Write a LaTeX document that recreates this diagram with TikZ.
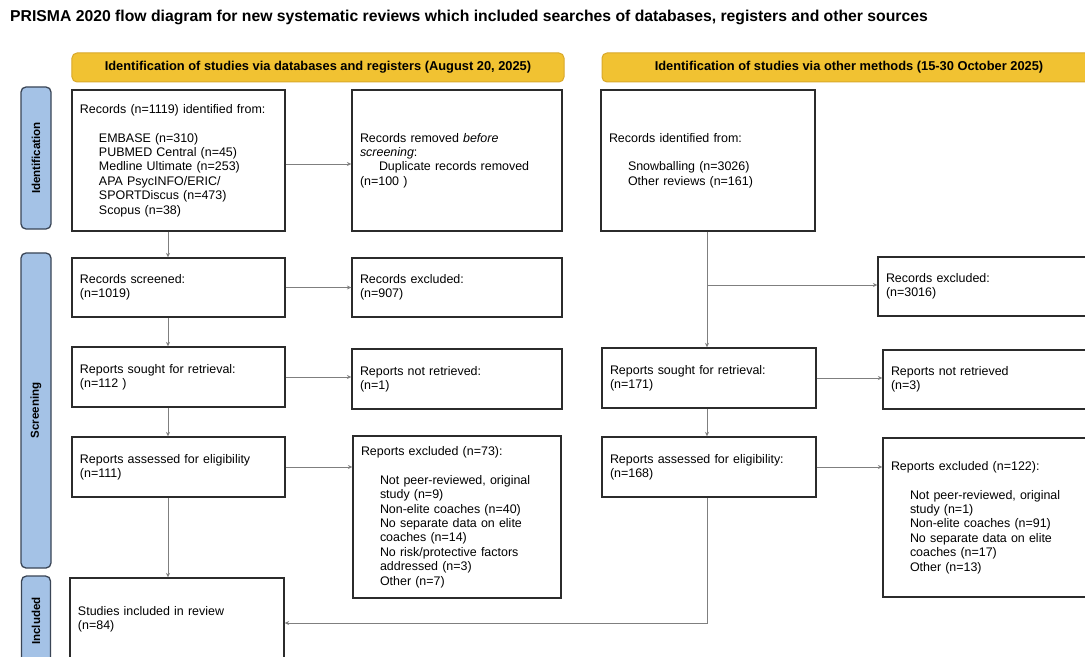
\documentclass[tikz,border=0pt]{standalone}
\usepackage{fontspec}
\setmainfont{Liberation Sans}
\usetikzlibrary{arrows.meta}
\definecolor{hdrfill}{HTML}{F1C232}
\definecolor{hdrdraw}{HTML}{D9A82A}
\definecolor{barfill}{HTML}{A4C2E6}
\definecolor{bardraw}{HTML}{3A4556}
\definecolor{boxdraw}{HTML}{2B2B2B}
\definecolor{linegray}{HTML}{7F7F7F}
\newcommand{\bxfont}{\fontsize{12.5}{14.5}\selectfont}
\newcommand{\ind}{\hspace*{19bp}}
\begin{document}
\begin{tikzpicture}[x=1bp,y=-1bp,
  pbox/.style={draw=boxdraw, line width=1.3bp, align=left, inner xsep=8bp, inner ysep=0bp, font=\bxfont, anchor=center},
  hdr/.style={draw=hdrdraw, fill=hdrfill, rounded corners=5bp, line width=1bp, font=\fontsize{12.9}{14}\selectfont\bfseries, inner sep=0bp},
  side/.style={draw=bardraw, fill=barfill, rounded corners=5bp, line width=1.3bp, rotate=90, font=\fontsize{11.6}{13}\selectfont\bfseries, inner sep=0bp},
  arr/.style={draw=linegray, line width=0.9bp, -{Stealth[length=4.5bp,width=4bp]}},
  ln/.style={draw=linegray, line width=0.9bp}]
\useasboundingbox (0,0) rectangle (1085,657);
\clip (0,0) rectangle (1085,657);
\fill[white] (0,0) rectangle (1085,657);

\node[anchor=west, font=\fontsize{15.8}{18}\selectfont\bfseries, inner sep=0bp] (title) at (10,17)
  {PRISMA 2020 flow diagram for new systematic reviews which included searches of databases, registers and other sources};

\node[hdr, minimum width=492bp, minimum height=29bp] (h1) at (318,67.5)
  {Identification of studies via databases and registers (August 20, 2025)};
\node[hdr, minimum width=494bp, minimum height=29bp] (h2) at (849,67.5)
  {Identification of studies via other methods (15-30 October 2025)};

\node[side, minimum width=142bp, minimum height=30bp] (sid) at (36,158) {Identification};
\node[side, minimum width=315bp, minimum height=30bp] (sscr) at (36,410.5) {Screening};
\node[side, minimum width=90bp, minimum height=29bp] (sinc) at (36,621) {Included};

% left column
\node[pbox, text width=197bp, minimum height=141bp] (rec) at (178.5,160.5)
  {Records (n=1119) identified from:\\[14.5bp]
   \ind EMBASE (n=310)\\
   \ind PUBMED Central (n=45)\\
   \ind Medline Ultimate (n=253)\\
   \ind APA PsycINFO/ERIC/\\
   \ind SPORTDiscus (n=473)\\
   \ind Scopus (n=38)};
\node[pbox, text width=194bp, minimum height=141bp] (rem) at (457,160.5)
  {Records removed \textit{before}\\
   \textit{screening}:\\
   \ind Duplicate records removed\\
   (n=100 )};
\node[pbox, text width=197bp, minimum height=59bp] (scr) at (178.5,287.5)
  {Records screened:\\(n=1019)};
\node[pbox, text width=194bp, minimum height=59bp] (exc) at (457,287.5)
  {Records excluded:\\(n=907)};
\node[pbox, text width=197bp, minimum height=60bp] (sou) at (178.5,377)
  {Reports sought for retrieval:\\(n=112 )};
\node[pbox, text width=194bp, minimum height=60bp] (nr) at (457,379)
  {Reports not retrieved:\\(n=1)};
\node[pbox, text width=197bp, minimum height=60bp] (ass) at (178.5,467)
  {Reports assessed for eligibility\\(n=111)};
\node[pbox, text width=192bp, minimum height=162bp] (exa) at (457,517)
  {Reports excluded (n=73):\\[14.5bp]
   \ind Not peer-reviewed, original\\
   \ind study (n=9)\\
   \ind Non-elite coaches (n=40)\\
   \ind No separate data on elite\\
   \ind coaches (n=14)\\
   \ind No risk/protective factors\\
   \ind addressed (n=3)\\
   \ind Other (n=7)};
\node[pbox, text width=198bp, minimum height=82bp] (inc) at (177,619)
  {Studies included in review\\(n=84)};

% right column
\node[pbox, text width=198bp, minimum height=141bp] (orec) at (708,160.5)
  {Records identified from:\\[14.5bp]
   \ind Snowballing (n=3026)\\
   \ind Other reviews (n=161)};
\node[pbox, text width=196bp, minimum height=59bp] (oexc) at (984,286.5)
  {Records excluded:\\(n=3016)};
\node[pbox, text width=198bp, minimum height=60bp] (osou) at (709,378)
  {Reports sought for retrieval:\\(n=171)};
\node[pbox, text width=194bp, minimum height=59bp] (onr) at (988,379.5)
  {Reports not retrieved\\(n=3)};
\node[pbox, text width=198bp, minimum height=60bp] (oass) at (709,467)
  {Reports assessed for eligibility:\\(n=168)};
\node[pbox, text width=194bp, minimum height=159bp] (oexa) at (988,517.5)
  {Reports excluded (n=122):\\[14.5bp]
   \ind Not peer-reviewed, original\\
   \ind study (n=1)\\
   \ind Non-elite coaches (n=91)\\
   \ind No separate data on elite\\
   \ind coaches (n=17)\\
   \ind Other (n=13)};

% connector guides
\coordinate (lx) at (168,0);
\coordinate (rx) at (707,0);
\coordinate (ib) at (707,623);

% left connectors
\draw[arr] ([yshift=-3.5bp]rec.east) -- ([yshift=-3.5bp]rec.east -| rem.west);
\draw[arr] (rec.south -| lx) -- (scr.north -| lx);
\draw[arr] (scr.east) -- (scr.east -| exc.west);
\draw[arr] (scr.south -| lx) -- (sou.north -| lx);
\draw[arr] (sou.east) -- (sou.east -| nr.west);
\draw[arr] (sou.south -| lx) -- (ass.north -| lx);
\draw[arr] (ass.east) -- (ass.east -| exa.west);
\draw[arr] (ass.south -| lx) -- (inc.north -| lx);

% right connectors
\draw[arr] (orec.south -| rx) -- (osou.north -| rx);
\draw[arr] ([yshift=1.5bp]oexc.west -| rx) -- ([yshift=1.5bp]oexc.west);
\draw[arr] (osou.east) -- (osou.east -| onr.west);
\draw[arr] (osou.south -| rx) -- (oass.north -| rx);
\draw[arr] (oass.east) -- (oass.east -| oexa.west);
\draw[arr] (oass.south -| rx) -- (ib) -- (ib -| inc.east);
\end{tikzpicture}
\end{document}
